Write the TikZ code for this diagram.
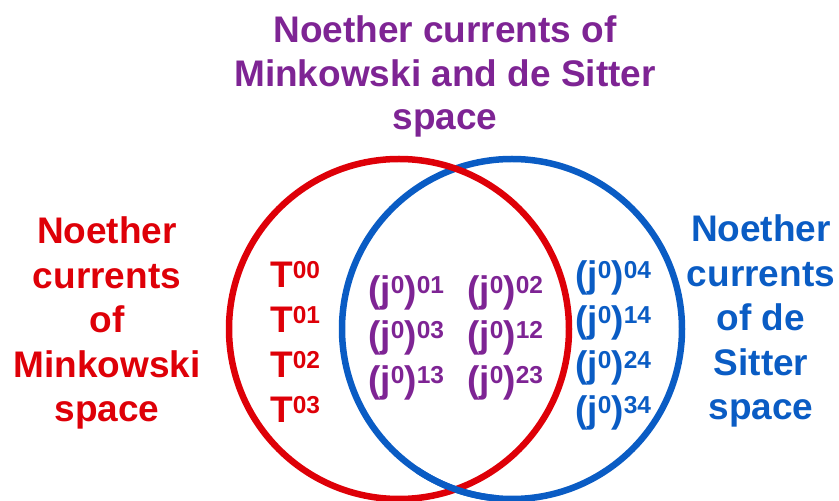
\documentclass[tikz,border=0pt]{standalone}
\usepackage{fontspec}
\setmainfont{Liberation Sans}
\definecolor{mkred}{RGB}{222,0,8}
\definecolor{dspurple}{RGB}{126,36,148}
\definecolor{dsblue}{RGB}{10,92,196}
% raised index, as in T^{00}
\newcommand\idx[1]{\raisebox{9pt}{\fontsize{24.5}{24.5}\selectfont #1}}
\tikzset{
  ring/.style={line width=6.5pt},
  label/.style={font=\bfseries\fontsize{37}{44.5}\selectfont, align=center, inner sep=0pt},
  term/.style={font=\bfseries\fontsize{37}{44}\selectfont, anchor=base west, inner sep=0pt},
}
\begin{document}
\begin{tikzpicture}[x=1pt,y=1pt]
\useasboundingbox (0,0) rectangle (839,501);

% the two sets
\draw[ring, dsblue] (512,172) circle[radius=170];
\draw[ring, mkred] (399,172) circle[radius=170];
\draw[ring, dsblue] (512,172) ++(236:170) arc[start angle=236, end angle=265, radius=170];

% set titles (anchored at the baseline of their last line)
\node[label, text=dspurple, anchor=base, font=\bfseries\fontsize{37}{43.5}\selectfont] (both) at (445,371)
  {Noether currents of\\Minkowski and de Sitter\\space};
\node[label, text=mkred, anchor=base] (mink) at (107,79)
  {Noether\\currents\\of\\Minkowski\\space};
\node[label, text=dsblue, anchor=base] (dsit) at (761,81)
  {Noether\\currents\\of de\\Sitter\\space};

% Minkowski only
\node[term, text=mkred] (t00) at (270,213) {T\idx{00}};
\node[term, text=mkred] (t01) at (270,168) {T\idx{01}};
\node[term, text=mkred] (t02) at (270,123) {T\idx{02}};
\node[term, text=mkred] (t03) at (270,78)  {T\idx{03}};

% shared
\node[term, text=dspurple] (j01) at (368,198) {(j\idx{0})\idx{01}};
\node[term, text=dspurple] (j03) at (368,153) {(j\idx{0})\idx{03}};
\node[term, text=dspurple] (j13) at (368,108) {(j\idx{0})\idx{13}};
\node[term, text=dspurple] (j02) at (467,198) {(j\idx{0})\idx{02}};
\node[term, text=dspurple] (j12) at (467,153) {(j\idx{0})\idx{12}};
\node[term, text=dspurple] (j23) at (467,108) {(j\idx{0})\idx{23}};

% de Sitter only
\node[term, text=dsblue] (j04) at (575,213) {(j\idx{0})\idx{04}};
\node[term, text=dsblue] (j14) at (575,168) {(j\idx{0})\idx{14}};
\node[term, text=dsblue] (j24) at (575,123) {(j\idx{0})\idx{24}};
\node[term, text=dsblue] (j34) at (575,78)  {(j\idx{0})\idx{34}};
\end{tikzpicture}
\end{document}
